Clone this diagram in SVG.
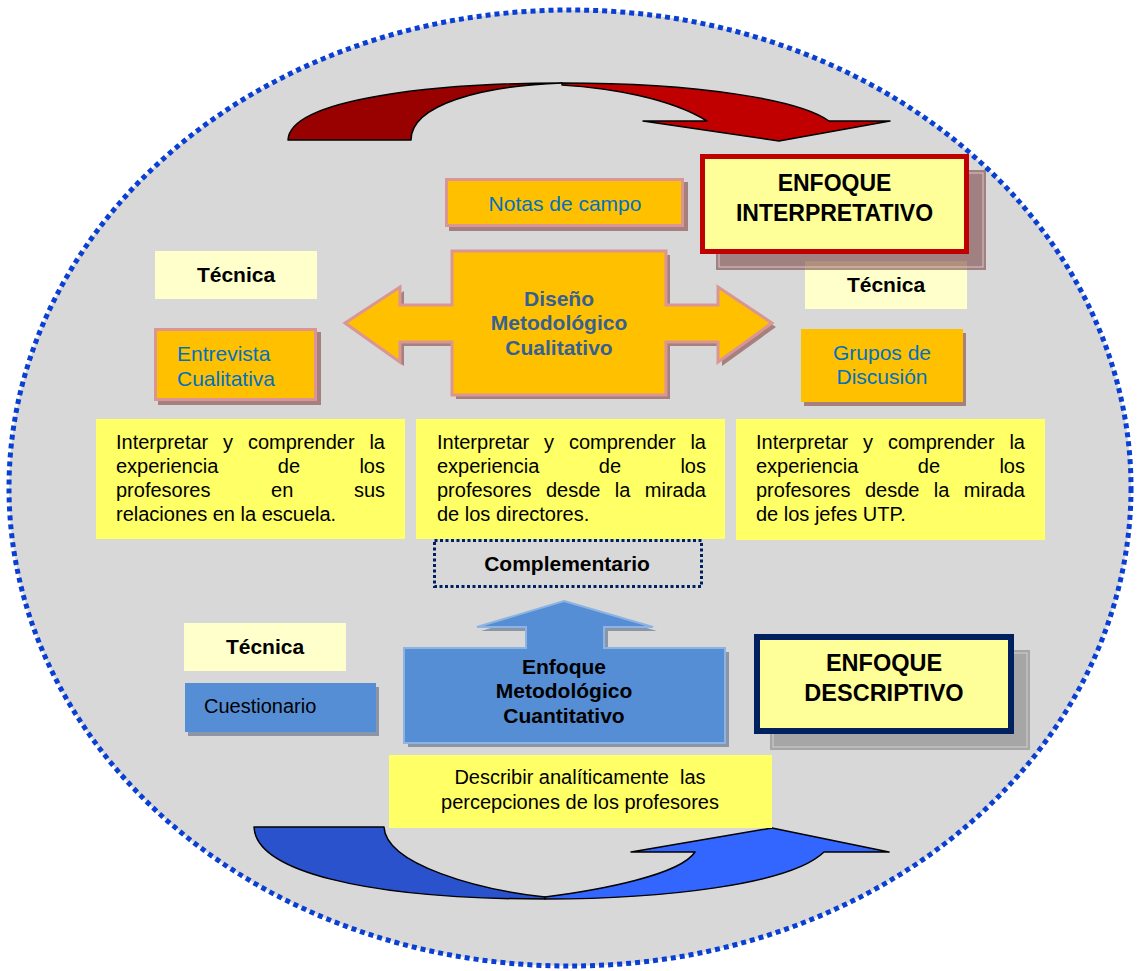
<svg xmlns="http://www.w3.org/2000/svg" width="1137" height="971" viewBox="0 0 1137 971">
  <style>
    text { font-family: "Liberation Sans", Arial, sans-serif; }
    .body { font-size: 20px; fill: #000; }
    .bold { font-weight: bold; }
    .orange { fill: #ffc000; stroke: #d99694; stroke-width: 3; }
    .orange-plain { fill: #ffc000; }
    .brown-shadow { fill: #a67f7f; }
    .blue { fill: #558ed5; }
    .blue-shadow { fill: #8a96a8; }
    .tecnica { fill: #ffffcc; }
    .note { fill: #ffff66; }
    .label-blue { font-size: 21px; fill: #0070c0; }
    .curve { stroke: #000; stroke-width: 1.5; stroke-linejoin: round; }
  </style>

  <!-- dotted outer ellipse -->
  <g id="frame">
    <ellipse cx="570" cy="488" rx="561" ry="478" fill="#d8d8d8" stroke="#0a3fd4" stroke-width="5" stroke-dasharray="5 4"/>
  </g>

  <!-- curved cycle arrows -->
  <g id="connectors">
    <g id="top-arrow">
      <path class="curve" fill="#990000" d="M288,140 C290,98 440,83 562,83 C480,86 411,105 411,140 Z"/>
      <path class="curve" fill="#c00000" d="M562,83 C700,83 800,100 829,121 L890,121 L779,141 L643,121 L707,121 C670,98 610,88 562,85 Z"/>
    </g>
    <g id="bottom-arrow">
      <path class="curve" fill="#2952cc" d="M254,827 L384,827 C386,865 480,890 545,897 L545,899 C360,899 256,870 254,827 Z"/>
      <path class="curve" fill="#3366ff" d="M545,897 C600,890 680,875 695,852 L631,852 L772,828 L889,852 L824,852 C790,885 660,899 545,899 Z"/>
    </g>
  </g>

  <!-- interpretive approach -->
  <g id="tecnica-right">
    <rect class="tecnica" x="805" y="261" width="162" height="48"/>
    <text class="bold" x="886" y="292" font-size="21" text-anchor="middle">Técnica</text>
  </g>
  <g id="enfoque-interpretativo">
    <rect x="716" y="170" width="270" height="100" fill="#794343" fill-opacity="0.59"/>
    <rect x="719" y="173" width="264" height="94" fill="none" stroke="#d9c6c6" stroke-width="1"/>
    <rect x="702.5" y="156.5" width="264" height="95" fill="#ffff99" stroke="#c00000" stroke-width="5"/>
    <text class="bold" x="834.5" y="191" font-size="23" text-anchor="middle">ENFOQUE</text>
    <text class="bold" x="834.5" y="221" font-size="23" text-anchor="middle">INTERPRETATIVO</text>
  </g>

  <g id="notas-de-campo">
    <rect class="brown-shadow" x="449" y="182" width="239" height="49"/>
    <rect class="orange" x="446.5" y="179.5" width="236" height="46"/>
    <text class="label-blue" x="565" y="210.5" text-anchor="middle">Notas de campo</text>
  </g>

  <g id="tecnica-left">
    <rect class="tecnica" x="155" y="251" width="162" height="48"/>
    <text class="bold" x="236" y="282" font-size="21" text-anchor="middle">Técnica</text>
  </g>

  <g id="entrevista">
    <rect class="brown-shadow" x="158" y="332" width="163" height="73"/>
    <rect class="orange" x="155.5" y="329.5" width="160" height="70"/>
    <text class="label-blue" x="177" y="360.5">Entrevista</text>
    <text class="label-blue" x="177" y="385.5">Cualitativa</text>
  </g>

  <g id="diseno-cualitativo">
    <path class="brown-shadow" transform="translate(4,4)" d="M345,323 L400,287 L400,305 L452,305 L452,251 L666,251 L666,305 L718,305 L718,287 L772,323 L718,362 L718,342 L666,342 L666,395 L452,395 L452,342 L400,342 L400,362 Z"/>
    <path class="orange" d="M345,323 L400,287 L400,305 L452,305 L452,251 L666,251 L666,305 L718,305 L718,287 L772,323 L718,362 L718,342 L666,342 L666,395 L452,395 L452,342 L400,342 L400,362 Z"/>
    <text class="bold" x="559" y="305.5" font-size="21" fill="#376092" text-anchor="middle">Diseño</text>
    <text class="bold" x="559" y="329.5" font-size="21" fill="#376092" text-anchor="middle">Metodológico</text>
    <text class="bold" x="559" y="354.5" font-size="21" fill="#376092" text-anchor="middle">Cualitativo</text>
  </g>

  <g id="grupos-discusion">
    <rect class="brown-shadow" x="804" y="333" width="162" height="73"/>
    <rect class="orange-plain" x="801" y="329" width="162" height="73"/>
    <text class="label-blue" x="882" y="359.5" text-anchor="middle">Grupos de</text>
    <text class="label-blue" x="882" y="383.5" text-anchor="middle">Discusión</text>
  </g>

  <!-- objectives, justified by hand -->
  <g id="objetivo-profesores">
    <rect class="note" x="96" y="419" width="309" height="120"/>
    <text class="body" y="449"><tspan x="116">Interpretar</tspan><tspan x="223.1">y</tspan><tspan x="247.9">comprender</tspan></text>
    <text class="body" x="385" y="449" text-anchor="end">la</text>
    <text class="body" x="116" y="473">experiencia</text>
    <text class="body" x="277.8" y="473">de</text>
    <text class="body" x="385" y="473" text-anchor="end">los</text>
    <text class="body" x="116" y="497">profesores</text>
    <text class="body" x="271.1" y="497">en</text>
    <text class="body" x="385" y="497" text-anchor="end">sus</text>
    <text class="body" x="116" y="521">relaciones en la escuela.</text>
  </g>

  <g id="objetivo-directores">
    <rect class="note" x="416" y="419" width="309" height="120"/>
    <text class="body" y="449"><tspan x="437">Interpretar</tspan><tspan x="544.1">y</tspan><tspan x="568.9">comprender</tspan></text>
    <text class="body" x="706" y="449" text-anchor="end">la</text>
    <text class="body" x="437" y="473">experiencia</text>
    <text class="body" x="598.8" y="473">de</text>
    <text class="body" x="706" y="473" text-anchor="end">los</text>
    <text class="body" y="497"><tspan x="437">profesores</tspan><tspan x="545.9">desde</tspan><tspan x="614.8">la</tspan></text>
    <text class="body" x="706" y="497" text-anchor="end">mirada</text>
    <text class="body" x="437" y="521">de los directores.</text>
  </g>

  <g id="objetivo-jefes-utp">
    <rect class="note" x="736" y="419" width="309" height="121"/>
    <text class="body" y="449"><tspan x="756">Interpretar</tspan><tspan x="863.1">y</tspan><tspan x="887.9">comprender</tspan></text>
    <text class="body" x="1025" y="449" text-anchor="end">la</text>
    <text class="body" x="756" y="473">experiencia</text>
    <text class="body" x="917.8" y="473">de</text>
    <text class="body" x="1025" y="473" text-anchor="end">los</text>
    <text class="body" y="497"><tspan x="756">profesores</tspan><tspan x="864.9">desde</tspan><tspan x="933.8">la</tspan></text>
    <text class="body" x="1025" y="497" text-anchor="end">mirada</text>
    <text class="body" x="756" y="521">de los jefes UTP.</text>
  </g>

  <g id="complementario">
    <rect x="434.5" y="540.5" width="267" height="46" fill="none" stroke="#002060" stroke-width="3" stroke-dasharray="3 2.5"/>
    <text class="bold" x="567" y="570.5" font-size="21" text-anchor="middle">Complementario</text>
  </g>

  <!-- descriptive approach -->
  <g id="tecnica-bottom">
    <rect class="tecnica" x="184" y="623" width="162" height="48"/>
    <text class="bold" x="265" y="654" font-size="21" text-anchor="middle">Técnica</text>
  </g>

  <g id="cuestionario">
    <rect class="blue-shadow" x="188" y="687" width="191" height="49"/>
    <rect class="blue" x="185" y="683" width="191" height="49"/>
    <text class="body" x="204" y="713">Cuestionario</text>
  </g>

  <g id="enfoque-cuantitativo">
    <path class="blue-shadow" transform="translate(4,4)" d="M564,601 L653,627 L604,627 L604,648 L725,648 L725,743 L404,743 L404,648 L526,648 L526,627 L477,627 Z"/>
    <path class="blue" stroke="#8db3e2" stroke-width="2" d="M564,601 L653,627 L604,627 L604,648 L725,648 L725,743 L404,743 L404,648 L526,648 L526,627 L477,627 Z"/>
    <text class="bold" x="564" y="673.5" font-size="21" text-anchor="middle">Enfoque</text>
    <text class="bold" x="564" y="697.5" font-size="21" text-anchor="middle">Metodológico</text>
    <text class="bold" x="564" y="722.5" font-size="21" text-anchor="middle">Cuantitativo</text>
  </g>

  <g id="enfoque-descriptivo">
    <rect x="770" y="650" width="260" height="100" fill="#a6a6a6"/>
    <rect x="773" y="653" width="254" height="94" fill="none" stroke="#cfcfcf" stroke-width="1"/>
    <rect x="757" y="637" width="254" height="94" fill="#ffff99" stroke="#002060" stroke-width="6"/>
    <text class="bold" x="884" y="671" font-size="23.5" text-anchor="middle">ENFOQUE</text>
    <text class="bold" x="884" y="701" font-size="23.5" text-anchor="middle">DESCRIPTIVO</text>
  </g>

  <g id="describir">
    <rect class="note" x="389" y="755" width="383" height="73"/>
    <text class="body" x="580" y="784" text-anchor="middle" xml:space="preserve">Describir analíticamente  las</text>
    <text class="body" x="580" y="809" text-anchor="middle">percepciones de los profesores</text>
  </g>
</svg>
